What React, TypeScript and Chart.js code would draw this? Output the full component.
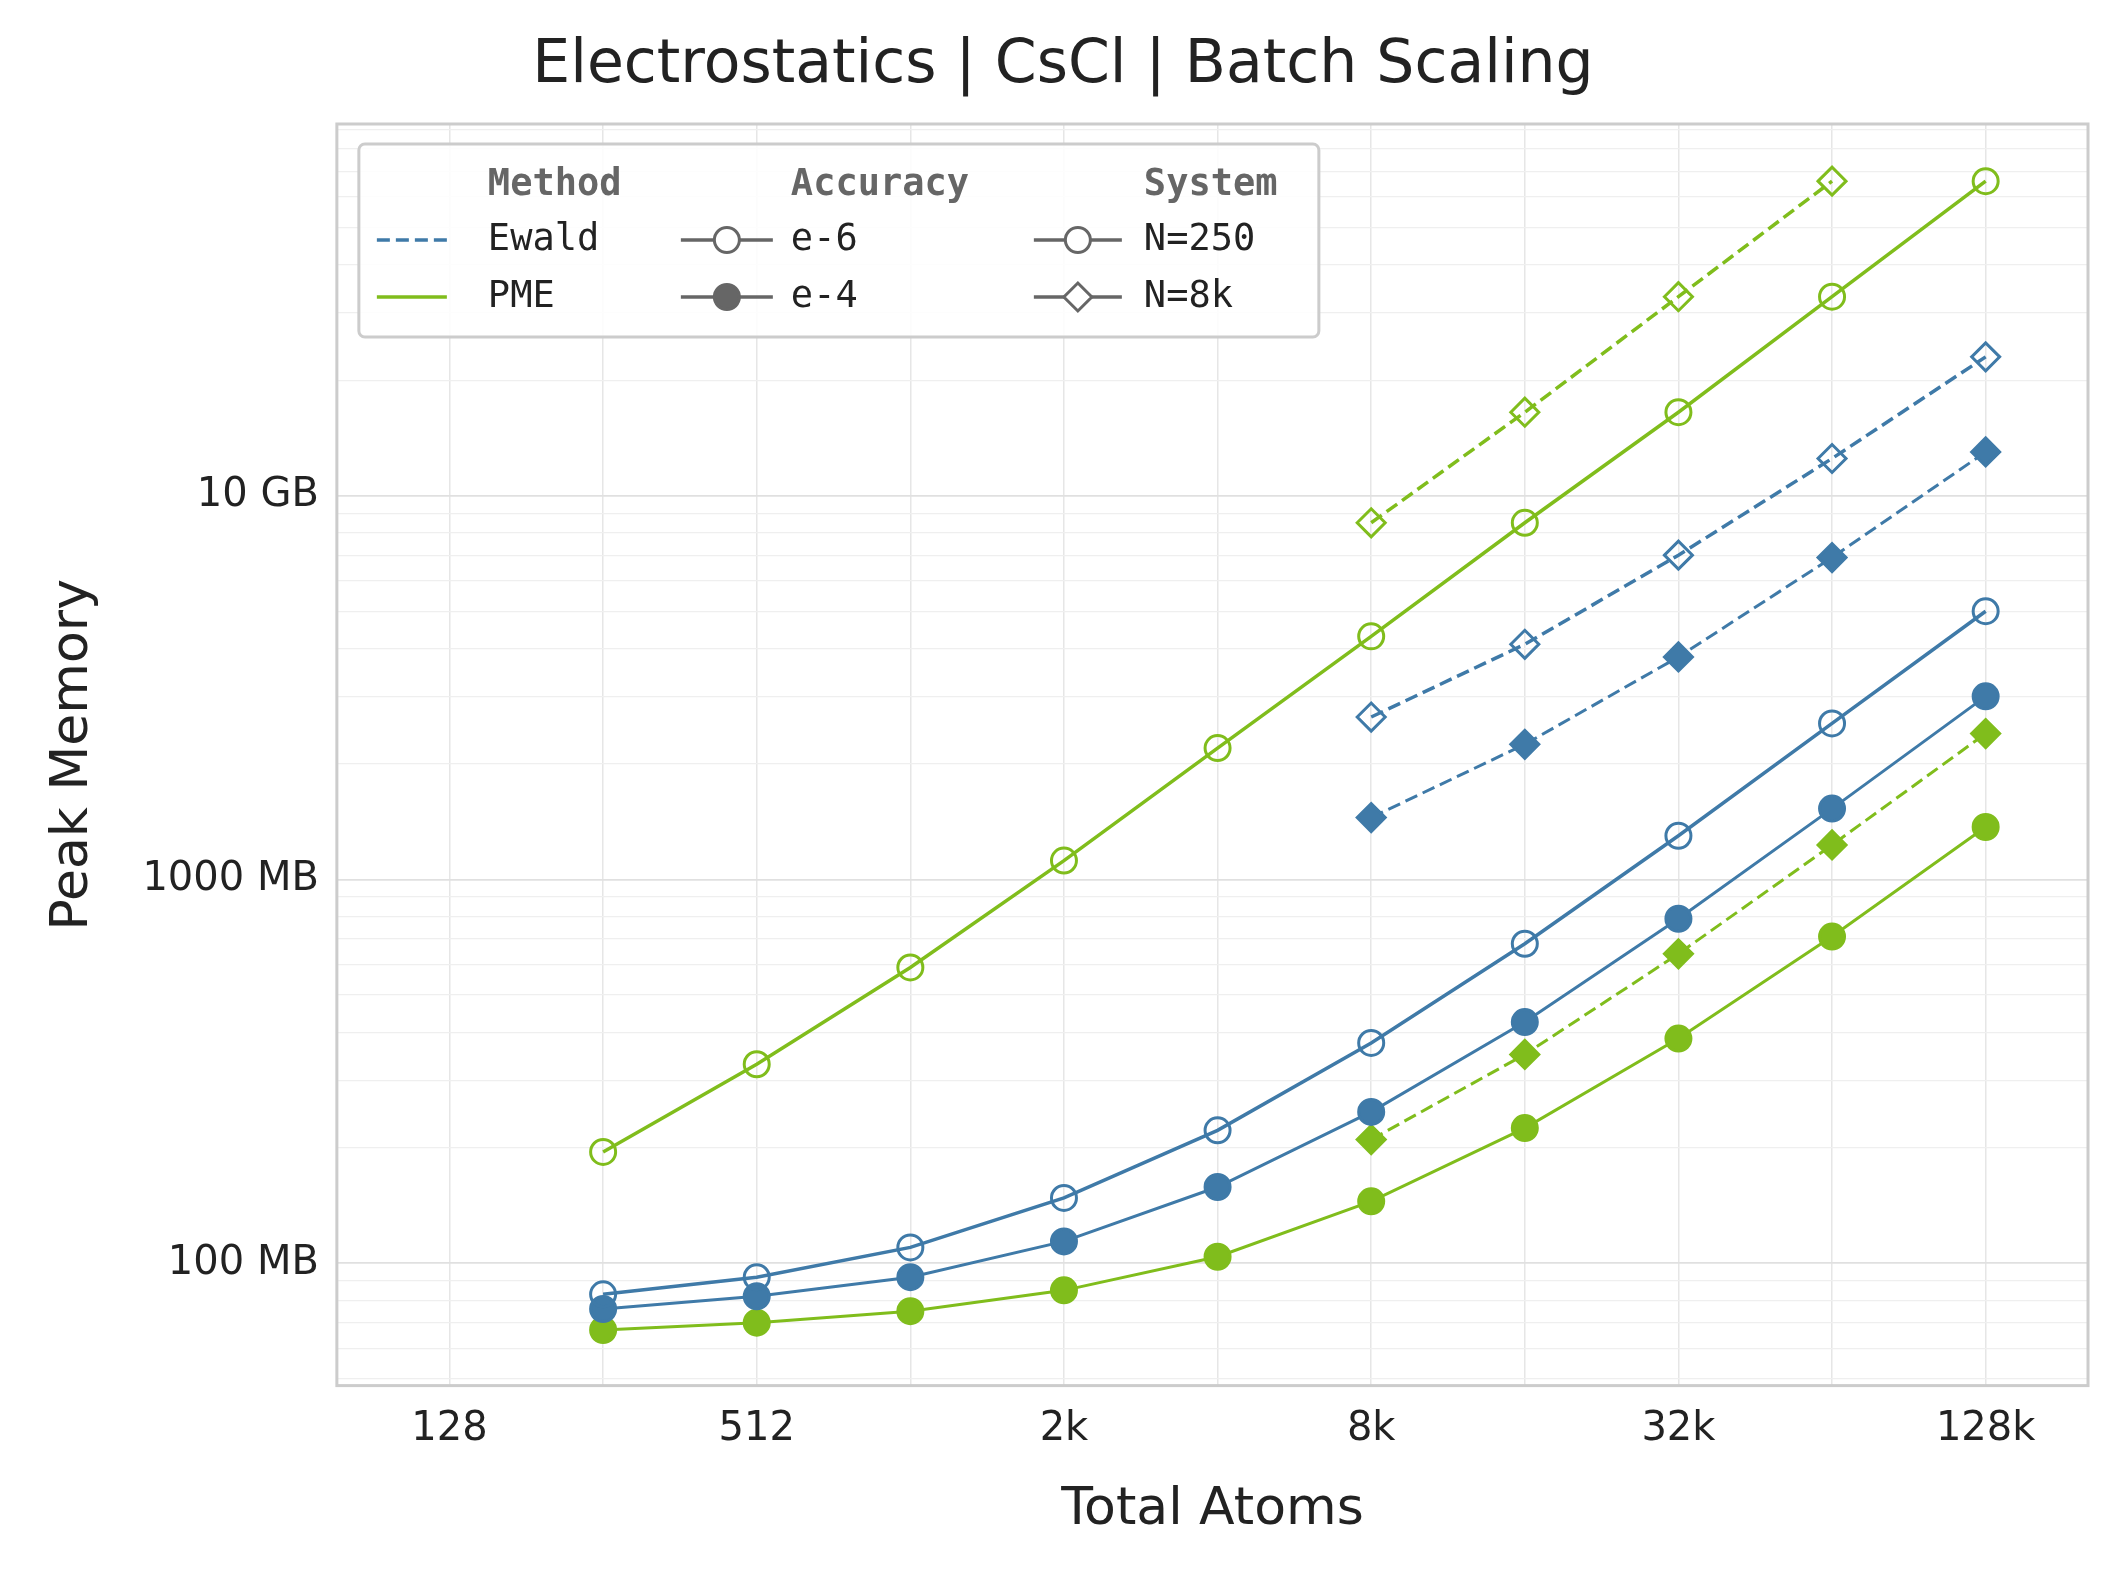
import React, { useEffect, useRef } from "react";
import { Chart, registerables } from "chart.js";
Chart.register(...registerables);

const atoms = [256, 512, 1024, 2048, 4096, 8192, 16384, 32768, 65536, 131072];
const atoms8k = [8192, 16384, 32768, 65536, 131072];
const ewaldE6N250 = [83, 92, 110, 148, 222, 375, 680, 1300, 2550, 5000];
const ewaldE4N250 = [76, 82, 92, 114, 158, 248, 425, 790, 1530, 3000];
const pmeE6N250 = [195, 330, 590, 1120, 2200, 4300, 8500, 16500, 33000, 66000];
const pmeE4N250 = [67, 70, 75, 85, 104, 145, 225, 385, 710, 1370];
const ewaldE6N8k = [2650, 4100, 7000, 12500, 23000];
const ewaldE4N8k = [1450, 2250, 3800, 6900, 13000];
const pmeE6N8k = [8500, 16500, 33000, 66000, null];
const pmeE4N8k = [210, 350, 640, 1230, 2400];
const xTicks = [128, 512, 2048, 8192, 32768, 131072];
const xTickLabels = ["128", "512", "2k", "8k", "32k", "128k"];
const yMajor = [100, 1000, 10000];
const yMajorLabels = ["100 MB", "1000 MB", "10 GB"];

const BLUE = "#3f7aa8";
const GREEN = "#80bd1c";
const GRAY = "#666666";

function pts(xs: number[], ys: (number | null)[]) {
  return xs.map((x, i) => ({ x, y: ys[i] }));
}

function ds(label: string, xs: number[], ys: (number | null)[], color: string, filled: boolean, diamond: boolean) {
  return {
    label,
    data: pts(xs, ys),
    borderColor: color,
    backgroundColor: filled ? color : "#ffffff",
    pointBackgroundColor: filled ? color : "rgba(255,255,255,0)",
    pointBorderColor: color,
    pointBorderWidth: 3,
    pointRadius: diamond ? 14 : 12.5,
    pointStyle: diamond ? "rectRot" : "circle",
    borderWidth: filled ? 3 : 3.5,
    borderDash: diamond ? [13, 6] : [],
    spanGaps: false,
  };
}

const framePlugin = {
  id: "frame",
  afterDraw(chart: any) {
    const { ctx, chartArea: a } = chart;
    ctx.save();
    ctx.strokeStyle = "#cccccc";
    ctx.lineWidth = 3;
    ctx.strokeRect(a.left, a.top, a.right - a.left, a.bottom - a.top);
    const bx = a.left + 22, by = a.top + 20, bw = 960, bh = 193;
    ctx.fillStyle = "rgba(255,255,255,0.85)";
    ctx.strokeStyle = "#cccccc";
    ctx.lineWidth = 3;
    ctx.beginPath();
    (ctx as any).roundRect(bx, by, bw, bh, 6);
    ctx.fill();
    ctx.stroke();
    const mono = "'DejaVu Sans Mono', monospace";
    ctx.textBaseline = "middle";
    const hy = by + 41, r1 = by + 96, r2 = by + 153;
    ctx.fillStyle = GRAY;
    ctx.font = `bold 37px ${mono}`;
    ctx.fillText("Method", bx + 129, hy);
    ctx.fillText("Accuracy", bx + 432, hy);
    ctx.fillText("System", bx + 785, hy);
    ctx.font = `37px ${mono}`;
    ctx.fillStyle = "#222";
    const line = (x1: number, x2: number, y: number, color: string, dash: number[]) => {
      ctx.strokeStyle = color;
      ctx.lineWidth = 3.5;
      ctx.setLineDash(dash);
      ctx.beginPath();
      ctx.moveTo(x1, y);
      ctx.lineTo(x2, y);
      ctx.stroke();
      ctx.setLineDash([]);
    };
    line(bx + 18, bx + 88, r1, BLUE, [13, 6]);
    line(bx + 18, bx + 88, r2, GREEN, []);
    ctx.fillText("Ewald", bx + 129, r1);
    ctx.fillText("PME", bx + 129, r2);
    line(bx + 322, bx + 414, r1, GRAY, []);
    line(bx + 322, bx + 414, r2, GRAY, []);
    ctx.lineWidth = 3;
    ctx.strokeStyle = GRAY;
    ctx.fillStyle = "#fff";
    ctx.beginPath(); ctx.arc(bx + 368, r1, 12.5, 0, Math.PI * 2); ctx.fill(); ctx.stroke();
    ctx.fillStyle = GRAY;
    ctx.beginPath(); ctx.arc(bx + 368, r2, 12.5, 0, Math.PI * 2); ctx.fill(); ctx.stroke();
    ctx.fillStyle = "#222";
    ctx.fillText("e-6", bx + 432, r1);
    ctx.fillText("e-4", bx + 432, r2);
    line(bx + 675, bx + 763, r1, GRAY, []);
    line(bx + 675, bx + 763, r2, GRAY, []);
    ctx.lineWidth = 3;
    ctx.strokeStyle = GRAY;
    ctx.fillStyle = "#fff";
    ctx.beginPath(); ctx.arc(bx + 719, r1, 12.5, 0, Math.PI * 2); ctx.fill(); ctx.stroke();
    ctx.beginPath();
    ctx.moveTo(bx + 719, r2 - 14); ctx.lineTo(bx + 733, r2); ctx.lineTo(bx + 719, r2 + 14); ctx.lineTo(bx + 705, r2); ctx.closePath();
    ctx.fill(); ctx.stroke();
    ctx.fillStyle = "#222";
    ctx.fillText("N=250", bx + 785, r1);
    ctx.fillText("N=8k", bx + 785, r2);
    ctx.restore();
  },
};

export default function App() {
  const ref = useRef<HTMLCanvasElement>(null);
  useEffect(() => {
    const yMinor: number[] = [];
    [10, 100, 1000, 10000].forEach((d) => {
      for (let k = 1; k <= 9; k++) {
        const v = d * k;
        if (v >= 48 && v <= 93000) yMinor.push(v);
      }
    });
    const xMinor: number[] = [];
    for (let v = 128; v <= 131072; v *= 2) xMinor.push(v);
    const chart = new Chart(ref.current!, {
      type: "line",
      data: {
        datasets: [
          ds("Ewald e-6 N=250", atoms, ewaldE6N250, BLUE, false, false),
          ds("Ewald e-4 N=250", atoms, ewaldE4N250, BLUE, true, false),
          ds("PME e-6 N=250", atoms, pmeE6N250, GREEN, false, false),
          ds("PME e-4 N=250", atoms, pmeE4N250, GREEN, true, false),
          ds("Ewald e-6 N=8k", atoms8k, ewaldE6N8k, BLUE, false, true),
          ds("Ewald e-4 N=8k", atoms8k, ewaldE4N8k, BLUE, true, true),
          ds("PME e-6 N=8k", atoms8k, pmeE6N8k, GREEN, false, true),
          ds("PME e-4 N=8k", atoms8k, pmeE4N8k, GREEN, true, true),
        ] as any,
      },
      options: {
        animation: false,
        responsive: false,
        layout: { padding: { left: 30, right: 22, top: 0, bottom: 20 } },
        plugins: {
          legend: { display: false },
          tooltip: { enabled: false },
          title: {
            display: true,
            text: "Electrostatics | CsCl | Batch Scaling",
            color: "#222",
            font: { family: "'DejaVu Sans'", size: 60, weight: "normal" as any },
            padding: { top: 22, bottom: 22 },
          },
        },
        scales: {
          x: {
            type: "logarithmic",
            min: 77,
            max: 208000,
            afterBuildTicks: (axis: any) => {
              axis.ticks = xMinor.map((v) => ({ value: v }));
            },
            ticks: {
              autoSkip: false,
              maxRotation: 0,
              color: "#222",
              font: { family: "'DejaVu Sans'", size: 40 },
              padding: 20,
              callback: (v: any) => {
                const i = xTicks.indexOf(Number(v));
                return i >= 0 ? xTickLabels[i] : "";
              },
            },
            grid: { color: "#e6e6e6", lineWidth: 1.5, drawTicks: false },
            border: { display: false },
            title: { display: true, text: "Total Atoms", color: "#222", font: { family: "'DejaVu Sans'", size: 52 }, padding: { top: 6 } },
          },
          y: {
            type: "logarithmic",
            min: 48,
            max: 93000,
            afterBuildTicks: (axis: any) => {
              axis.ticks = yMinor.map((v) => ({ value: v }));
            },
            ticks: {
              autoSkip: false,
              color: "#222",
              font: { family: "'DejaVu Sans'", size: 40 },
              padding: 18,
              callback: (v: any) => {
                const i = yMajor.indexOf(Number(v));
                return i >= 0 ? yMajorLabels[i] : "";
              },
            },
            grid: {
              color: (c: any) => (yMajor.includes(c.tick?.value) ? "#e0e0e0" : "#efefef"),
              lineWidth: (c: any) => (yMajor.includes(c.tick?.value) ? 1.8 : 1.2),
              drawTicks: false,
            },
            border: { display: false },
            title: { display: true, text: "Peak Memory", color: "#222", font: { family: "'DejaVu Sans'", size: 52 }, padding: { bottom: 20 } },
          },
        },
      } as any,
      plugins: [framePlugin],
    });
    return () => chart.destroy();
  }, []);
  return (
    <div style={{ width: 2102, height: 1558, background: "#fff" }}>
      <canvas ref={ref} width={2102} height={1558} style={{ width: 2102, height: 1558 }} />
    </div>
  );
}
